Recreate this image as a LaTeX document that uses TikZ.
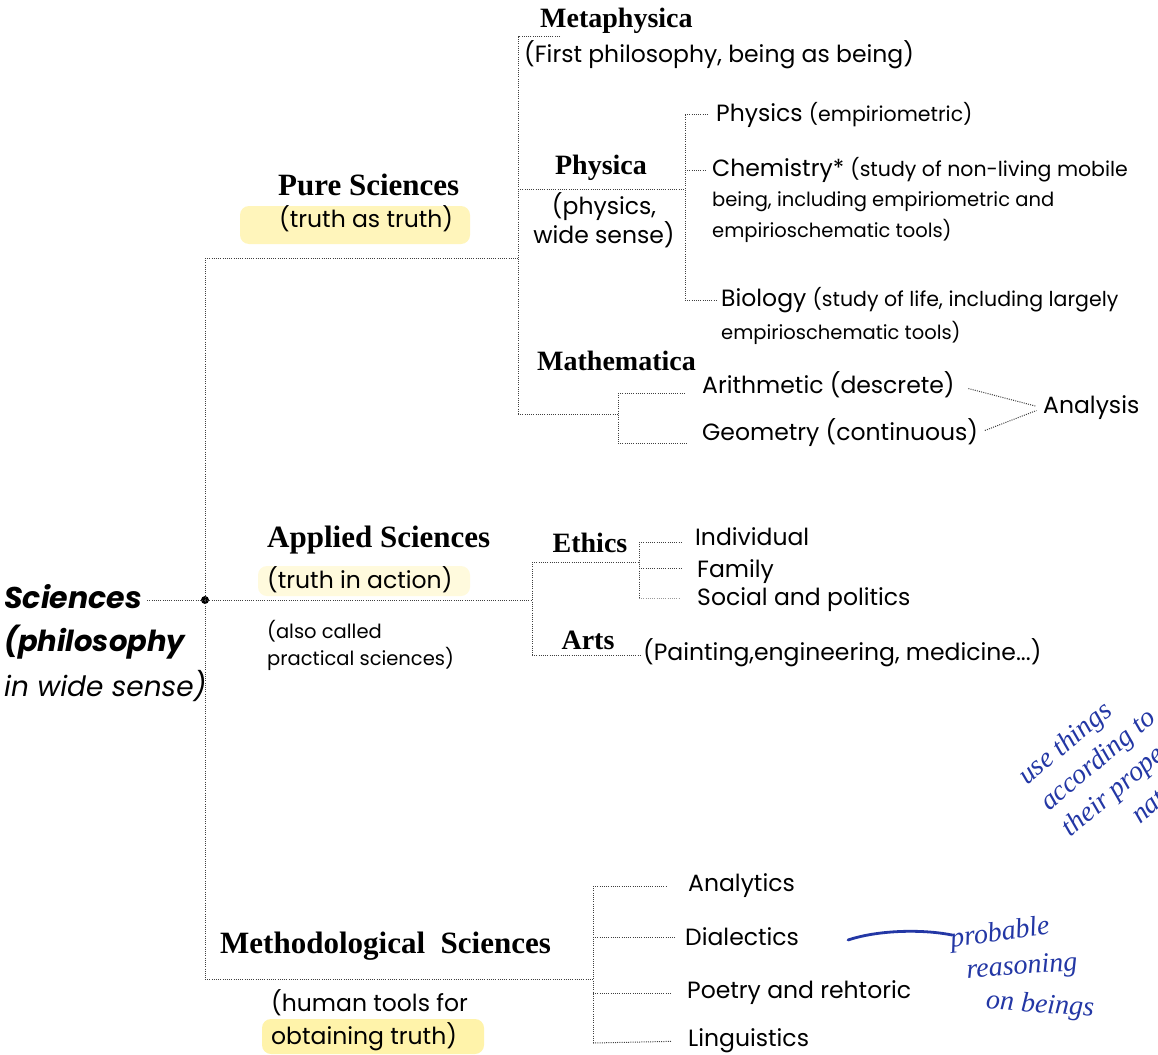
\documentclass[tikz,border=0pt]{standalone}
\usepackage{fontspec}
\setmainfont{Liberation Serif}
\newfontfamily\gothic{Poppins}
\newfontfamily\penfont{Liberation Serif}
\usetikzlibrary{positioning}
\definecolor{penblue}{RGB}{35,55,165}
\definecolor{marker}{RGB}{255,243,170}

\tikzset{
  conn/.style={line width=1pt, dash pattern=on 1pt off 1.2pt, black!75},
  head/.style={font=\fontsize{31}{33}\selectfont\bfseries, inner sep=0pt},
  subhead/.style={font=\fontsize{28}{30}\selectfont\bfseries, inner sep=0pt},
  txt/.style={font=\fontsize{23.5}{27}\selectfont\gothic, inner sep=0pt, align=left},
  note/.style={font=\fontsize{19.5}{27}\selectfont\gothic, inner sep=0pt, align=left},
  pen/.style={font=\fontsize{28}{34}\selectfont\penfont\itshape, text=penblue, inner sep=0pt, align=left},
  hilite/.style={fill=marker, draw=none, rounded corners=9pt}
}
\newcommand{\aside}[1]{{\fontsize{20.5}{22}\selectfont #1}}

\begin{document}
\begin{tikzpicture}[x=1pt,y=-1pt]
\useasboundingbox (0,0) rectangle (1158,1054);
\fill[white] (0,0) rectangle (1158,1054);

% Marker
\fill[hilite, opacity=0.8] (240,206) rectangle (470,244);
\fill[hilite, opacity=0.4] (258,566) rectangle (470,596);
\fill[hilite] (262,1019) rectangle (484,1054);

% Root
\node[font=\fontsize{30}{32}\selectfont\gothic\bfseries\itshape, anchor=west, inner sep=0pt] (sci) at (4,597) {Sciences};
\node[font=\fontsize{29}{32}\selectfont\gothic\bfseries\itshape, anchor=west, inner sep=0pt] (phil) at (4,642) {(philosophy};
\node[font=\fontsize{28}{32}\selectfont\gothic\itshape, anchor=west, inner sep=0pt] (wide) at (4,686) {in wide sense)};
\coordinate (root) at (205,600);
\fill (root) circle (4pt);
\draw[conn, shorten <=5pt] (sci.east |- root) -- (root);

% Trunk
\coordinate (pureJ) at (205,258);
\coordinate (applJ) at (532,600);
\coordinate (methJ) at (205,979);
\draw[conn] (pureJ) -- (methJ);
\draw[conn] (root) -- (applJ);

% Pure sciences
\node[head, anchor=west] (pure) at (278,185) {Pure Sciences};
\node[txt, anchor=west] (puretxt) at (279,219) {(truth as truth)};
\coordinate (pureK) at (518,258);
\coordinate (metaJ) at (518,37);
\coordinate (metaT) at (560,37);
\coordinate (mathJ) at (518,414);
\draw[conn] (pureJ) -- (pureK);
\draw[conn] (metaT) -- (metaJ) -- (mathJ);

\node[subhead, anchor=west] (meta) at (540,21) {Metaphysica};
\node[txt, anchor=west] (metatxt) at (524,55) {(First philosophy, being as being)};

% Physica
\node[subhead] (physica) at (601,168) {Physica};
\node[txt, align=center, font=\fontsize{23.5}{26}\selectfont\gothic] (physicatxt) at (604,220) {(physics,\\wide sense)};
\coordinate (physJ) at (685,189);
\coordinate (physT) at (685,115);
\coordinate (chemT) at (685,170);
\coordinate (bioT) at (685,300);
\draw[conn] (metaJ |- physJ) -- (physJ);
\draw[conn] (physT) -- (bioT);

\node[txt, anchor=west] (physics) at (716,115) {Physics \aside{(empiriometric)}};
\node[txt, anchor=west] (chem) at (712,170) {Chemistry* \aside{(study of non-living mobile}};
\node[note, anchor=west] (chem2) at (712,202) {being, including empiriometric and};
\node[note, anchor=west] (chem3) at (712,231) {empirioschematic tools)};
\node[txt, anchor=west] (bio) at (721,300) {Biology \aside{(study of life, including largely}};
\node[note, anchor=west] (bio2) at (721,333) {empirioschematic tools)};
\draw[conn, shorten >=7pt] (physT) -- (physics.west);
\draw[conn, shorten >=5pt] (chemT) -- (chem.west);
\draw[conn, shorten >=5pt] (bioT) -- (bio.west);

% Mathematica
\node[subhead, anchor=west] (mathem) at (537,361) {Mathematica};
\node[txt, anchor=west] (arith) at (702,385) {Arithmetic (descrete)};
\node[txt, anchor=west] (geom) at (702,433) {Geometry (continuous)};
\node[txt, anchor=west] (analysis) at (1043,408) {Analysis};
\coordinate (mathK) at (618,414);
\coordinate (arithT) at (618,393);
\coordinate (geomT) at (618,443);
\draw[conn] (mathJ) -- (mathK);
\draw[conn] (arithT) -- (geomT);
\draw[conn, shorten >=17pt] (arithT) -- (arithT -| arith.west);
\draw[conn, shorten >=14pt] (geomT) -- (geomT -| geom.west);
\draw[conn, shorten <=14pt, shorten >=7pt] (arith.east) -- (analysis.west);
\draw[conn, shorten <=7pt, shorten >=7pt] (geom.east) -- (analysis.west);

% Applied sciences
\node[head, anchor=west] (applied) at (267,540) {Applied Sciences};
\node[txt, anchor=west] (appliedtxt) at (267,580) {(truth in action)};
\node[note, anchor=north west] (appliednote) at (267,620) {(also called\\practical sciences)};
\coordinate (ethJ) at (532,562);
\coordinate (artJ) at (532,655);
\coordinate (ethK) at (639,562);
\draw[conn] (ethJ) -- (artJ);
\draw[conn] (ethJ) -- (ethK);

\node[subhead] (ethics) at (590,543) {Ethics};
\node[txt, anchor=west] (indiv) at (695,537) {Individual};
\node[txt, anchor=west] (family) at (697,572) {Family};
\node[txt, anchor=west] (social) at (697,600) {Social and politics};
\coordinate (indT) at (639,542);
\coordinate (famT) at (639,568);
\coordinate (socT) at (639,598);
\draw[conn] (indT) -- (socT);
\draw[conn, shorten >=12pt] (indT) -- (indT -| indiv.west);
\draw[conn, shorten >=15pt] (famT) -- (famT -| family.west);
\draw[conn, shorten >=17pt, black!40] (socT) -- (socT -| social.west);

\node[subhead] (arts) at (588,640) {Arts};
\node[txt, anchor=west] (paint) at (643,653) {(Painting,engineering, medicine...)};
\draw[conn, shorten >=3pt] (artJ) -- (artJ -| paint.west);

% Methodological sciences
\node[head, anchor=west] (method) at (220,946) {Methodological\ \ Sciences};
\node[txt, anchor=north west, font=\fontsize{23.5}{33}\selectfont\gothic] (methtxt) at (271,989) {(human tools for\\obtaining truth)};
\coordinate (methK) at (593,979);
\coordinate (anlT) at (593,886);
\coordinate (diaT) at (593,937);
\coordinate (poeT) at (593,993);
\coordinate (linT) at (593,1043);
\draw[conn] (methJ) -- (methK);
\draw[conn] (anlT) -- (linT);

\node[txt, anchor=west] (analytics) at (688,886) {Analytics};
\node[txt, anchor=west] (dialectics) at (685,937) {Dialectics};
\node[txt, anchor=west] (poetry) at (687,993) {Poetry and rehtoric};
\node[txt, anchor=west] (linguistics) at (688,1041) {Linguistics};
\draw[conn, shorten >=21pt] (anlT) -- (analytics.west);
\draw[conn, shorten >=10pt] (diaT) -- (dialectics.west);
\draw[conn, shorten >=15pt] (poeT) -- (poetry.west);
\draw[conn, shorten >=16pt] (linT) -- (linguistics.west);

% Pen notes
\coordinate (strokeA) at (848,940);
\coordinate (strokeB) at (952,935);
\draw[penblue, line width=2.8pt, line cap=round] (strokeA) .. controls (878,930) and (922,929) .. (strokeB);
\node[pen, rotate=8] (probable) at (1000,934) {probable};
\node[pen, rotate=4] (reasoning) at (1022,968) {reasoning};
\node[pen, rotate=-4] (beings) at (1040,1006) {on beings};
\node[pen, rotate=40] (nature) at (1108,772) {use things\\according to\\their proper\\\hspace{2.2em}nature};
\end{tikzpicture}
\end{document}
